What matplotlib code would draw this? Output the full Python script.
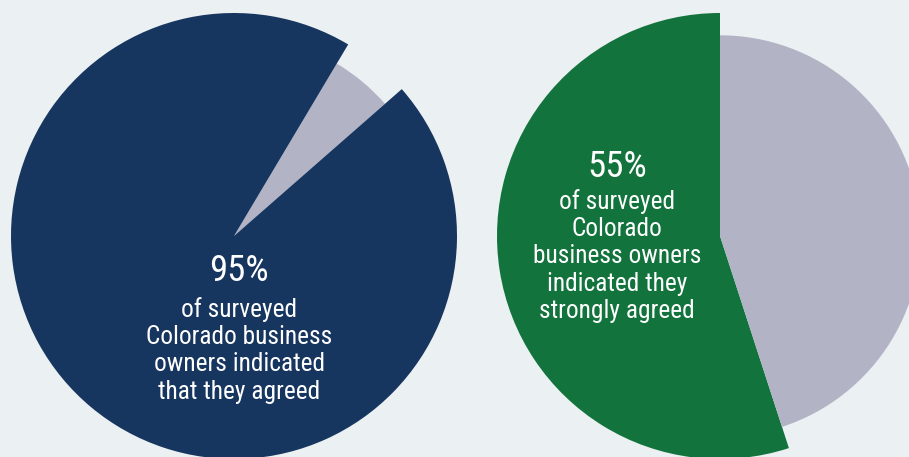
import matplotlib
matplotlib.use("Agg")
import matplotlib.pyplot as plt
from matplotlib import font_manager

# Data
left_labels = ["Did not agree", "Agreed"]
left_values = [5, 95]
right_labels = ["Did not strongly agree", "Strongly agreed"]
right_values = [45, 55]
left_text_pct = "95%"
left_text_body = "of surveyed\nColorado business\nowners indicated\nthat they agreed"
right_text_pct = "55%"
right_text_body = "of surveyed\nColorado\nbusiness owners\nindicated they\nstrongly agreed"

BG = "#ebf0f3"
NAVY = "#17365f"
GREY = "#b3b3c6"
GREEN = "#12733d"

font = "Roboto"
for cand in ["Roboto Condensed", "Roboto"]:
    try:
        font_manager.findfont(cand, fallback_to_default=False)
        font = cand
        break
    except Exception:
        pass

W, H = 909, 457
fig = plt.figure(figsize=(W / 100, H / 100), dpi=100, facecolor=BG)
ax = fig.add_axes([0, 0, 1, 1])
ax.set_facecolor(BG)

R = 223
# Left pie
lc = (234, H - 236)
wl, _ = ax.pie(left_values, colors=[GREY, NAVY], startangle=41.2, counterclock=True,
               center=lc, radius=R, frame=True, wedgeprops=dict(linewidth=0))
wl[0].set_radius(R * 0.9)

# Right pie: green from 90 counterclockwise
rc = (720, H - 236)
wr, _ = ax.pie([right_values[1], right_values[0]], colors=[GREEN, GREY], startangle=90,
               counterclock=True, center=rc, radius=R, frame=True,
               wedgeprops=dict(linewidth=0))
wr[1].set_radius(R * 0.9)

ax.set_xlim(0, W)
ax.set_ylim(0, H)
ax.set_aspect("equal")
ax.axis("off")

body_fs = 18.3
pct_fs = 26.5
ax.text(239, H - 271, left_text_pct, color="white", fontsize=pct_fs, ha="center", va="center",
        family=font)
ax.text(239, H - 297, left_text_body, color="white", fontsize=body_fs, ha="center", va="top",
        family=font, linespacing=1.17)
ax.text(617, H - 167, right_text_pct, color="white", fontsize=pct_fs, ha="center", va="center",
        family=font)
ax.text(617, H - 189, right_text_body, color="white", fontsize=body_fs, ha="center", va="top",
        family=font, linespacing=1.17)

fig.savefig("out.png", dpi=100, facecolor=BG)
